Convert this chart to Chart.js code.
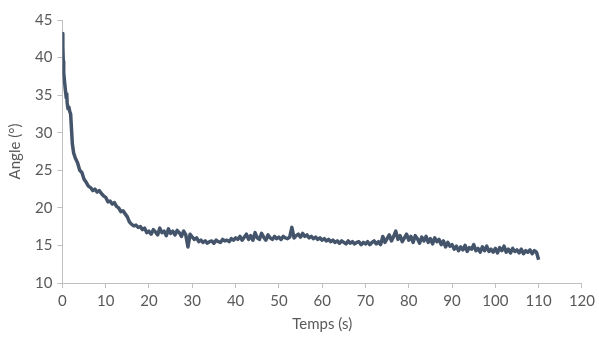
<!DOCTYPE html>
<html>
<head>
<meta charset="utf-8">
<script src="https://cdn.jsdelivr.net/npm/chart.js@4"></script>
<style>
    html, body { margin: 0; padding: 0; background: #ffffff; }
    #wrap { width: 599px; height: 337px; position: relative; }
</style>
</head>
<body>
<div id="wrap"><canvas id="angleChart"></canvas></div>
<script>
// Temps (s) et angle (°)
const timeS = [
    0, 0.1, 0.2, 0.3, 0.5, 0.7, 0.9, 1.0, 1.1, 1.3,
    1.5, 1.7, 1.9, 2.1, 2.3, 2.6, 3.0, 3.5, 4.0, 4.5,
    5.0, 5.5, 6.0, 6.5, 7.0, 7.5, 8.0, 8.5, 9.0, 9.5,
    10.0, 10.5, 11.0, 11.5, 12.0, 12.5, 13.0, 13.5, 14.0, 14.5,
    15.0, 15.5, 16.0, 16.5, 17.0, 17.5, 18.0, 18.5, 19.0, 19.5,
    20.0, 20.5, 21.0, 21.5, 22.0, 22.5, 23.0, 23.5, 24.0, 24.5,
    25.0, 25.5, 26.0, 26.5, 27.0, 27.5, 28.0, 28.5, 29.0, 29.5,
    30.0, 30.5, 31.0, 31.5, 32.0, 32.5, 33.0, 33.5, 34.0, 34.5,
    35.0, 35.5, 36.0, 36.5, 37.0, 37.5, 38.0, 38.5, 39.0, 39.5,
    40.0, 40.5, 41.0, 41.5, 42.0, 42.5, 43.0, 43.5, 44.0, 44.5,
    45.0, 45.5, 46.0, 46.5, 47.0, 47.5, 48.0, 48.5, 49.0, 49.5,
    50.0, 50.5, 51.0, 51.5, 52.0, 52.5, 53.0, 53.5, 54.0, 54.5,
    55.0, 55.5, 56.0, 56.5, 57.0, 57.5, 58.0, 58.5, 59.0, 59.5,
    60.0, 60.5, 61.0, 61.5, 62.0, 62.5, 63.0, 63.5, 64.0, 64.5,
    65.0, 65.5, 66.0, 66.5, 67.0, 67.5, 68.0, 68.5, 69.0, 69.5,
    70.0, 70.5, 71.0, 71.5, 72.0, 72.5, 73.0, 73.5, 74.0, 74.5,
    75.0, 75.5, 76.0, 76.5, 77.0, 77.5, 78.0, 78.5, 79.0, 79.5,
    80.0, 80.5, 81.0, 81.5, 82.0, 82.5, 83.0, 83.5, 84.0, 84.5,
    85.0, 85.5, 86.0, 86.5, 87.0, 87.5, 88.0, 88.5, 89.0, 89.5,
    90.0, 90.5, 91.0, 91.5, 92.0, 92.5, 93.0, 93.5, 94.0, 94.5,
    95.0, 95.5, 96.0, 96.5, 97.0, 97.5, 98.0, 98.5, 99.0, 99.5,
    100.0, 100.5, 101.0, 101.5, 102.0, 102.5, 103.0, 103.5, 104.0, 104.5,
    105.0, 105.5, 106.0, 106.5, 107.0, 107.5, 108.0, 108.5, 109.0, 109.5,
    110.0
];

const angleDeg = [
    43.2, 41.5, 39.5, 38.0, 36.8, 35.6, 34.6, 35.2, 34.0, 33.2,
    33.4, 32.8, 32.5, 30.5, 28.5, 27.3, 26.6, 26.0, 25.0, 24.7,
    23.8, 23.4, 22.9, 22.7, 22.3, 22.5, 22.1, 22.3, 21.9, 21.6,
    21.4, 20.8, 20.9, 20.5, 20.7, 20.2, 20.0, 19.5, 19.6, 19.2,
    18.8, 18.1, 17.8, 17.6, 17.7, 17.4, 17.5, 17.1, 17.3, 16.7,
    16.9, 16.5, 17.1, 16.8, 16.4, 17.3, 16.7, 16.9, 16.3, 17.2,
    16.6, 16.9, 16.4, 17.0, 16.7, 16.2, 16.9, 16.4, 14.8, 16.5,
    16.1, 15.8, 16.0, 15.5, 15.7, 15.4, 15.6, 15.3, 15.5, 15.6,
    15.3, 15.7, 15.5, 15.4, 15.8, 15.6, 15.7, 15.5, 15.9, 15.7,
    16.0, 15.8, 16.2, 15.7, 16.1, 16.5, 15.8, 16.3, 15.7, 16.7,
    16.0, 15.8, 16.6, 16.1, 15.7, 16.4, 16.0, 15.8, 16.2, 15.9,
    16.1, 15.8, 16.2, 16.0, 15.9, 16.1, 17.4, 16.0, 16.3, 16.5,
    16.1, 16.6, 16.2, 16.4, 16.0, 16.2, 15.9, 16.1, 15.8, 16.0,
    15.7, 15.9, 15.6, 15.8, 15.5, 15.7, 15.4, 15.6, 15.3, 15.6,
    15.4, 15.2, 15.6, 15.3, 15.5, 15.2, 15.4, 15.5, 15.1, 15.4,
    15.2, 15.5, 15.1, 15.4, 15.6, 15.2, 15.5, 15.1, 16.2, 15.4,
    15.9, 16.4, 15.6, 16.2, 16.9, 15.8, 16.3, 15.5, 16.0, 16.5,
    15.7, 16.2, 15.4, 16.3, 15.9, 15.3, 16.1, 15.6, 16.2, 15.4,
    15.9, 15.2, 16.0, 15.5, 15.8, 15.1, 15.6, 14.8, 15.4, 14.9,
    15.1, 14.5, 14.9, 14.3, 14.8, 14.4, 15.0, 14.2, 14.7, 14.5,
    15.1, 14.3, 14.6, 14.1, 14.8, 14.3, 14.9, 14.2, 14.5, 14.1,
    14.6, 14.0, 14.7, 14.3, 14.9, 14.1, 14.5, 14.0, 14.6, 14.2,
    14.4, 14.0, 14.5, 13.9, 14.3, 14.1, 14.4, 13.9, 14.3, 14.1,
    13.1
];

const xTitle = "Temps (s)";
const yTitle = "Angle (°)";

document.addEventListener("DOMContentLoaded", function () {
    const ctx = document.getElementById("angleChart").getContext("2d");
    const points = timeS.map((t, i) => ({ x: t, y: angleDeg[i] }));
    const axisGrey = "#BFBFBF";
    const textGrey = "#595959";
    const font = { family: "Lato", size: 15 };

    new Chart(ctx, {
        type: "scatter",
        data: {
            datasets: [{
                label: yTitle,
                data: points,
                showLine: true,
                borderColor: "#44546A",
                borderWidth: 3.5,
                borderJoinStyle: "round",
                pointRadius: 0,
                tension: 0,
            }],
        },
        options: {
            responsive: true,
            maintainAspectRatio: false,
            animation: false,
            layout: { padding: { top: 20, right: 7, left: 6, bottom: 4 } },
            plugins: {
                legend: { display: false },
                tooltip: { enabled: false },
            },
            scales: {
                x: {
                    type: "linear",
                    min: 0,
                    max: 120,
                    ticks: { stepSize: 10, color: textGrey, font: font, maxRotation: 0, padding: 4 },
                    grid: { drawOnChartArea: false, color: axisGrey, tickLength: 5 },
                    border: { color: axisGrey, width: 1 },
                    title: { display: true, text: xTitle, color: textGrey, font: font, padding: { top: 1, bottom: 0 } },
                },
                y: {
                    min: 10,
                    max: 45,
                    ticks: { stepSize: 5, color: textGrey, font: font, padding: 5 },
                    grid: { drawOnChartArea: false, color: axisGrey, tickLength: 5 },
                    border: { color: axisGrey, width: 1 },
                    title: { display: true, text: yTitle, color: textGrey, font: font, padding: { top: 0, bottom: 6 } },
                },
            },
        },
    });
});
</script>
</body>
</html>
